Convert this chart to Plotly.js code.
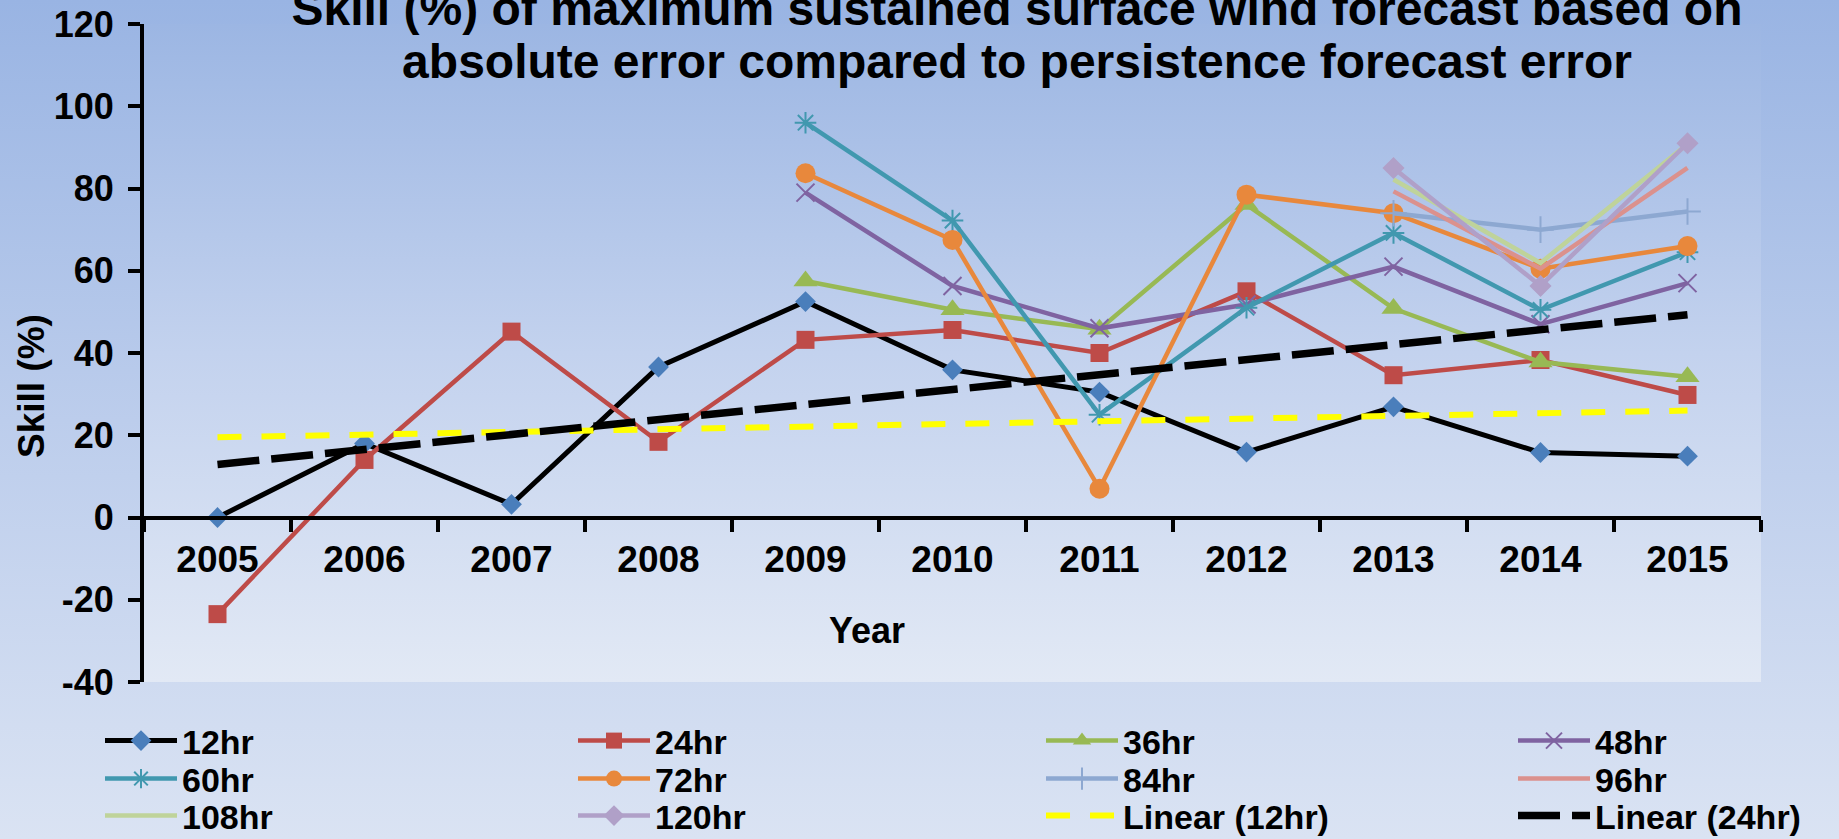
<!DOCTYPE html>
<html>
<head>
<meta charset="utf-8">
<script src="https://cdn.plot.ly/plotly-3.0.1.min.js"></script>
<style>
  html, body { margin: 0; padding: 0; }
  body { width: 1839px; height: 839px; overflow: hidden;
         background: linear-gradient(to bottom, #99b4e3 0%, #bccdec 50%, #dae3f3 100%); }
  #wrap { position: relative; width: 1839px; height: 839px; }
  #inner { position: absolute; left: 144px; top: 24px; width: 1617px; height: 658px;
           background: linear-gradient(to bottom, #9cb6e3 0%, #c3d2ee 50%, #e2e9f5 100%); }
  #chart { position: absolute; left: 0; top: 0; width: 1839px; height: 839px; }
</style>
</head>
<body>
<div id="wrap"><div id="inner"></div><div id="chart"></div></div>
<script>
// ---- data ----
const years = ['2005','2006','2007','2008','2009','2010','2011','2012','2013','2014','2015'];
const s12hr  = [0, 18, 3.2, 36.6, 52.5, 35.9, 30.5, 15.9, 26.9, 15.8, 14.9];
const s24hr  = [-23.5, 14, 45.2, 18.4, 43.2, 45.6, 40, 55, 34.6, 38.3, 29.8];
const s36hr  = [null, null, null, null, 57.5, 50.5, 45.8, 76.1, 50.8, 37.8, 34.2];
const s48hr  = [null, null, null, null, 79, 56.3, 46, 51.8, 61, 47, 57];
const s60hr  = [null, null, null, null, 96, 72.2, 25.0, 51, 69.2, 50.5, 64.5];
const s72hr  = [null, null, null, null, 83.7, 67.5, 7.0, 78.5, 74, 60.5, 66];
const s84hr  = [null, null, null, null, null, null, null, null, 74, 70, 74.4];
const s96hr  = [null, null, null, null, null, null, null, null, 79.3, 60.5, 85];
const s108hr = [null, null, null, null, null, null, null, null, 82.2, 61.9, 90.8];
const s120hr = [null, null, null, null, null, null, null, null, 85, 56.3, 91];
const trendYears = ['2005', '2015'];
const linear12hr = [19.5, 26.0];
const linear24hr = [12.9, 49.3];
const seriesNames = ['12hr','24hr','36hr','48hr','60hr','72hr','84hr','96hr','108hr','120hr','Linear (12hr)','Linear (24hr)'];
const yTickVals = [-40, -20, 0, 20, 40, 60, 80, 100, 120];
const yTickText = ['-40', '-20', '0', '20', '40', '60', '80', '100', '120'];

const FONT = "'Liberation Sans', Arial, sans-serif";

function tr(i, x, y, lineStyle, marker) {
  const t = {
    type: 'scatter', x: x, y: y, name: seriesNames[i],
    mode: marker ? 'lines+markers' : 'lines',
    line: lineStyle, legend: i === 0 ? 'legend' : 'legend' + (i + 1),
    cliponaxis: false, hoverinfo: 'skip'
  };
  if (marker) t.marker = marker;
  return t;
}

const traces = [
  tr(0, years, s12hr, {color: '#000000', width: 5}, {symbol: 'diamond', size: 16, color: '#4a7ebb'}),
  tr(1, years, s24hr, {color: '#be4b48', width: 4.5}, {symbol: 'square', size: 18, color: '#be4b48'}),
  tr(2, years, s36hr, {color: '#98b954', width: 4.5}, {symbol: 'triangle-up', size: 21, color: '#98b954'}),
  tr(3, years, s48hr, {color: '#7f63a1', width: 4.5}, {symbol: 'x-thin-open', size: 18, color: '#7f63a1', line: {color: '#7f63a1', width: 2}}),
  tr(4, years, s60hr, {color: '#4198af', width: 4.5}, {symbol: 'asterisk-open', size: 18, color: '#4198af', line: {color: '#4198af', width: 2}}),
  tr(5, years, s72hr, {color: '#e8883c', width: 4.5}, {symbol: 'circle', size: 20, color: '#e8883c'}),
  tr(6, years, s84hr, {color: '#8da8d1', width: 4.5}, {symbol: 'cross-thin-open', size: 19, color: '#8da8d1', line: {color: '#8da8d1', width: 2}}),
  tr(7, years, s96hr, {color: '#db918d', width: 4.5}, null),
  tr(8, years, s108hr, {color: '#bfd39a', width: 4.5}, null),
  tr(9, years, s120hr, {color: '#b0a0c8', width: 4.5}, {symbol: 'diamond', size: 17, color: '#b0a0c8'}),
  tr(10, trendYears, linear12hr, {color: '#ffff00', width: 6, dash: '24px,20px'}, null),
  tr(11, trendYears, linear24hr, {color: '#000000', width: 7.5, dash: '42px,12px'}, null)
];

const W = 1839, H = 839;
const colX = [100, 573, 1041, 1513];
const rowY = [741, 779, 816];

const layout = {
  width: W, height: H,
  paper_bgcolor: 'rgba(0,0,0,0)',
  plot_bgcolor: 'rgba(0,0,0,0)',
  margin: {l: 144, r: 78, t: 24, b: 157, autoexpand: false},
  font: {family: FONT, color: '#000000', weight: 'bold'},
  title: {
    text: '<span style="font-size:48px">Skill (%) of maximum sustained surface wind forecast based on<br>absolute error compared to persistence forecast error</span>',
    font: {family: FONT, size: 41, weight: 'bold', color: '#000000'},
    xref: 'container', yref: 'container',
    x: 1017 / W, xanchor: 'center',
    y: 1 - 25 / H, yanchor: 'top', pad: {t: 0, b: 0, l: 0, r: 0}
  },
  xaxis: {
    type: 'category', categoryorder: 'array', categoryarray: years,
    range: [-0.5, 10.5], fixedrange: true,
    anchor: 'free', position: 0.25,
    showline: true, linecolor: '#000000', linewidth: 4,
    ticks: 'outside', tickson: 'boundaries', ticklen: 12, tickwidth: 4, tickcolor: '#000000',
    tickfont: {family: FONT, size: 37, weight: 'bold', color: '#000000'},
    ticklabelstandoff: 8,
    showgrid: false, zeroline: false
  },
  yaxis: {
    range: [-40, 120], fixedrange: true,
    tickmode: 'array', tickvals: yTickVals, ticktext: yTickText,
    showline: true, linecolor: '#000000', linewidth: 4,
    ticks: 'outside', ticklen: 12, tickwidth: 4, tickcolor: '#000000',
    tickfont: {family: FONT, size: 36, weight: 'bold', color: '#000000'},
    ticklabelstandoff: 7,
    showgrid: false, zeroline: false
  },
  annotations: [
    {text: 'Skill (%)', textangle: -90, xref: 'paper', yref: 'paper',
     x: (31 - 144) / 1617, y: (682 - 386) / 658, xanchor: 'center', yanchor: 'middle',
     showarrow: false, font: {family: FONT, size: 37, weight: 'bold', color: '#000000'}},
    {text: 'Year', xref: 'paper', yref: 'paper',
     x: (867 - 144) / 1617, y: (682 - 630) / 658, xanchor: 'center', yanchor: 'middle',
     showarrow: false, font: {family: FONT, size: 36, weight: 'bold', color: '#000000'}}
  ],
  showlegend: true
};

seriesNames.forEach(function (n, i) {
  const key = i === 0 ? 'legend' : 'legend' + (i + 1);
  layout[key] = {
    xref: 'container', yref: 'container',
    x: colX[i % 4] / W, y: 1 - rowY[Math.floor(i / 4)] / H,
    xanchor: 'left', yanchor: 'middle',
    bgcolor: 'rgba(0,0,0,0)', borderwidth: 0,
    itemwidth: 72, itemclick: false, itemdoubleclick: false,
    font: {family: FONT, size: 34, weight: 'bold', color: '#000000'}
  };
});

Plotly.newPlot('chart', traces, layout, {displayModeBar: false, staticPlot: true});
</script>
</body>
</html>
